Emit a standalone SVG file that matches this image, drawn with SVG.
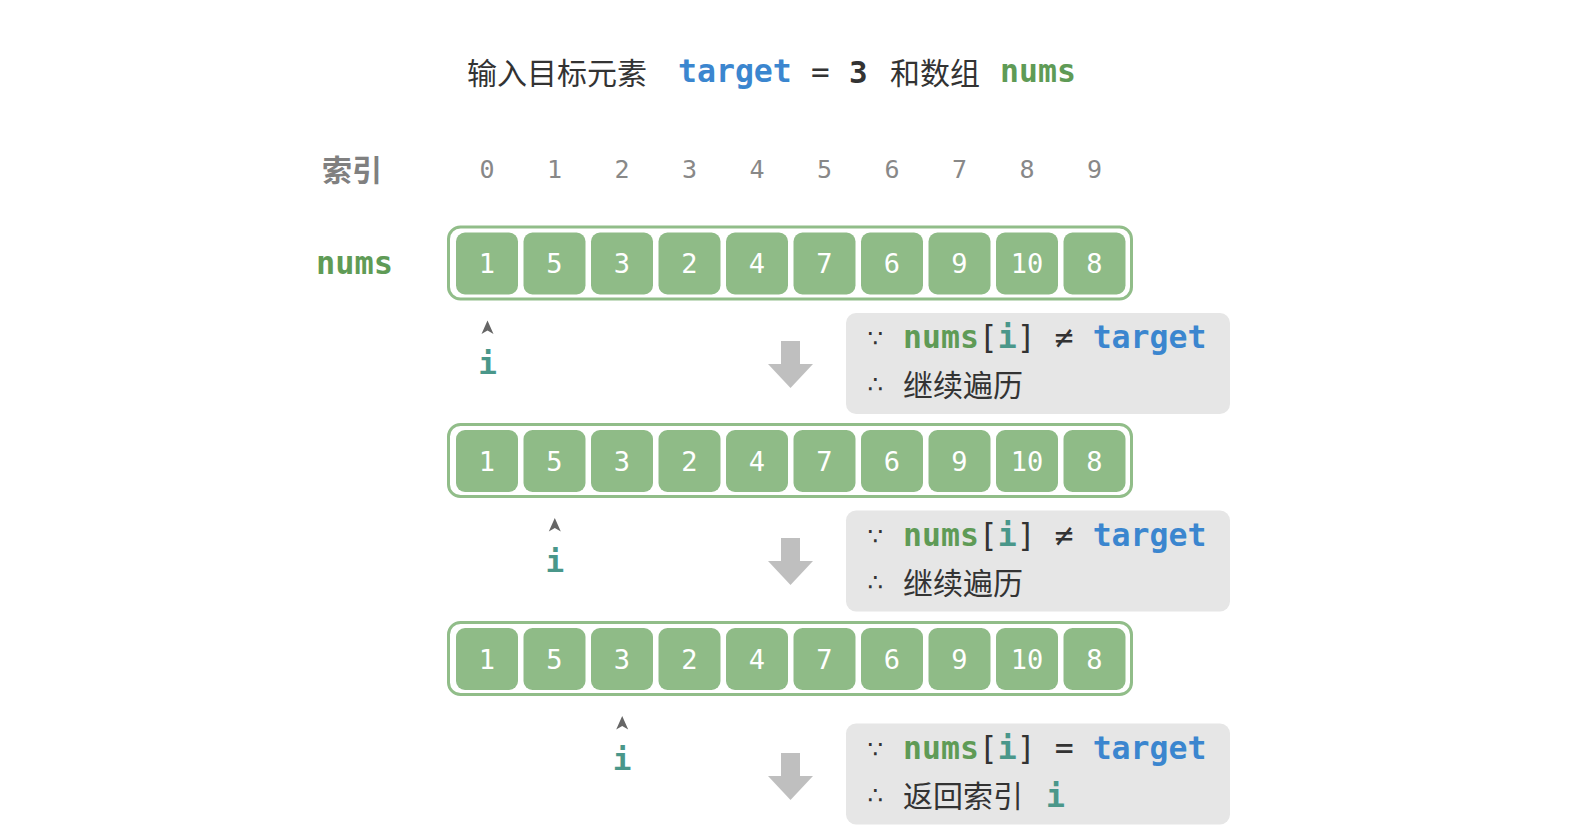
<svg xmlns="http://www.w3.org/2000/svg" width="1590" height="838" viewBox="0 0 1590 838">
<defs>
<style>
.cjk{font-family:"Noto Sans CJK SC","Noto Sans",sans-serif;}
.mono{font-family:"DejaVu Sans Mono","Liberation Mono",monospace;}
.title{font-size:30px;fill:#333;}
.blue{fill:#3b86cf;font-weight:bold;}
.green{fill:#5f9b56;font-weight:bold;}
.teal{fill:#4a978a;font-weight:bold;}
.dark{fill:#333;}
.idx{font-size:25px;fill:#888;text-anchor:middle;}
.outer{fill:#fff;stroke:#91bd89;stroke-width:3;}
.cell{fill:#8fbb87;}
.num{font-size:27px;fill:#fff;text-anchor:middle;}
.box{fill:#e6e6e6;}
.sym{font-family:"DejaVu Sans",sans-serif;font-size:25px;fill:#333;text-anchor:middle;}
.arrow{fill:#bfbfbf;}
.caret{fill:#666;}
</style>
<g id="arrayTpl">
<rect class="outer" x="448.5" y="227" width="683" height="72" rx="12"/>
<rect class="cell" x="456" y="232.5" width="62" height="62" rx="9"/>
<rect class="cell" x="523.5" y="232.5" width="62" height="62" rx="9"/>
<rect class="cell" x="591" y="232.5" width="62" height="62" rx="9"/>
<rect class="cell" x="658.5" y="232.5" width="62" height="62" rx="9"/>
<rect class="cell" x="726" y="232.5" width="62" height="62" rx="9"/>
<rect class="cell" x="793.5" y="232.5" width="62" height="62" rx="9"/>
<rect class="cell" x="861" y="232.5" width="62" height="62" rx="9"/>
<rect class="cell" x="928.5" y="232.5" width="62" height="62" rx="9"/>
<rect class="cell" x="996" y="232.5" width="62" height="62" rx="9"/>
<rect class="cell" x="1063.5" y="232.5" width="62" height="62" rx="9"/>
<g class="mono num">
<text x="487" y="273">1</text>
<text x="554.5" y="273">5</text>
<text x="622" y="273">3</text>
<text x="689.5" y="273">2</text>
<text x="757" y="273">4</text>
<text x="824.5" y="273">7</text>
<text x="892" y="273">6</text>
<text x="959.5" y="273">9</text>
<text x="1027" y="273">10</text>
<text x="1094.5" y="273">8</text>
</g>
</g>
</defs>

<g id="title">
<text class="cjk title" x="467" y="84">输入目标元素</text>
<text class="mono blue" x="678" y="82" font-size="31.5">target</text>
<text class="mono dark" x="811" y="82" font-size="31">=</text>
<text class="mono dark" x="849" y="83" font-size="31" font-weight="bold">3</text>
<text class="cjk title" x="890" y="84">和数组</text>
<text class="mono green" x="1000" y="82" font-size="31.5">nums</text>
</g>

<g id="index-row">
<text class="cjk" x="322" y="181" font-size="30" font-weight="bold" fill="#808080">索引</text>
<g class="mono idx">
<text x="487" y="178">0</text>
<text x="554.5" y="178">1</text>
<text x="622" y="178">2</text>
<text x="689.5" y="178">3</text>
<text x="757" y="178">4</text>
<text x="824.5" y="178">5</text>
<text x="892" y="178">6</text>
<text x="959.5" y="178">7</text>
<text x="1027" y="178">8</text>
<text x="1094.5" y="178">9</text>
</g>
</g>

<g id="nums-label">
<text class="mono green" x="316" y="274" font-size="32">nums</text>
</g>

<g id="array-1"><use href="#arrayTpl"/></g>
<g id="array-2"><use href="#arrayTpl" transform="translate(0,197.5)"/></g>
<g id="array-3"><use href="#arrayTpl" transform="translate(0,395.5)"/></g>

<g id="pointer-1">
<polygon class="caret" points="487.5,320.5 493.5,334 487.5,330.5 481.5,334"/>
<text class="mono teal" x="487.5" y="374" font-size="31" text-anchor="middle">i</text>
</g>
<g id="pointer-2">
<polygon class="caret" points="554.8,518 560.8,531.5 554.8,528 548.8,531.5"/>
<text class="mono teal" x="554.8" y="571.5" font-size="31" text-anchor="middle">i</text>
</g>
<g id="pointer-3">
<polygon class="caret" points="622.2,716 628.2,729.5 622.2,726 616.2,729.5"/>
<text class="mono teal" x="622.2" y="769.5" font-size="31" text-anchor="middle">i</text>
</g>

<g id="connectors">
<polygon class="arrow" points="781,341 800,341 800,364 813,364 790.5,388 768,364 781,364"/>
<polygon class="arrow" points="781,538 800,538 800,561 813,561 790.5,585 768,561 781,561"/>
<polygon class="arrow" points="781,753 800,753 800,776 813,776 790.5,800 768,776 781,776"/>
</g>

<g id="box-1">
<rect class="box" x="846" y="313" width="384" height="101" rx="10"/>
<text class="sym" x="875.5" y="347">∵</text>
<text class="mono" x="903" y="348" font-size="31.5"><tspan class="green">nums</tspan><tspan class="dark">[</tspan><tspan class="teal">i</tspan><tspan class="dark">] ≠ </tspan><tspan class="blue">target</tspan></text>
<text class="sym" x="875.5" y="393">∴</text>
<text class="cjk dark" x="903" y="396" font-size="30">继续遍历</text>
</g>
<g id="box-2">
<rect class="box" x="846" y="510.5" width="384" height="101" rx="10"/>
<text class="sym" x="875.5" y="544.5">∵</text>
<text class="mono" x="903" y="545.5" font-size="31.5"><tspan class="green">nums</tspan><tspan class="dark">[</tspan><tspan class="teal">i</tspan><tspan class="dark">] ≠ </tspan><tspan class="blue">target</tspan></text>
<text class="sym" x="875.5" y="590.5">∴</text>
<text class="cjk dark" x="903" y="593.5" font-size="30">继续遍历</text>
</g>
<g id="box-3">
<rect class="box" x="846" y="723.5" width="384" height="101" rx="10"/>
<text class="sym" x="875.5" y="758">∵</text>
<text class="mono" x="903" y="759" font-size="31.5"><tspan class="green">nums</tspan><tspan class="dark">[</tspan><tspan class="teal">i</tspan><tspan class="dark">] = </tspan><tspan class="blue">target</tspan></text>
<text class="sym" x="875.5" y="804">∴</text>
<text class="cjk dark" x="903" y="807" font-size="30">返回索引</text>
<text class="mono teal" x="1046" y="807" font-size="31.5">i</text>
</g>
</svg>
